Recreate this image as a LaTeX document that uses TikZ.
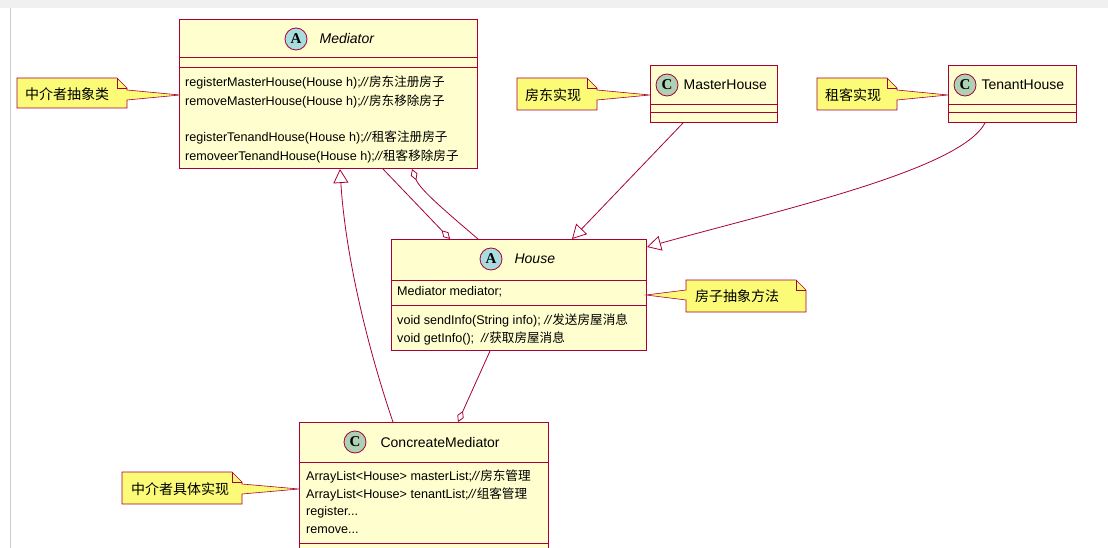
\documentclass[tikz,border=0pt]{standalone}
\usepackage{fontspec}
\setmainfont{Liberation Sans}
\newfontfamily\cjk{Noto Sans CJK SC}
\newfontfamily\badgefont{Liberation Serif}
\usetikzlibrary{arrows.meta,positioning,calc}
\definecolor{umlred}{HTML}{A80036}
\definecolor{umlfill}{HTML}{FEFECE}
\definecolor{notefill}{HTML}{FBFB77}
\definecolor{absbadge}{HTML}{A9DCDF}
\definecolor{clsbadge}{HTML}{ADD1B2}

\newcommand{\umlnote}[6]{% x1 y1 x2 y2 tip-x tip-y (pointer on right side)
  \draw[note] (#1,#2) -- ({#3-10},#2) -- (#3,{#2+10}) -- (#3,{#2+12}) -- (#5,#6)
    -- (#3,{#2+22}) -- (#3,#4) -- (#1,#4) -- cycle;
  \draw[umlred, line width=0.6pt] ({#3-10},#2) -- ({#3-10},{#2+10}) -- (#3,{#2+10});
}

\begin{document}
\begin{tikzpicture}[x=1pt, y=-1pt,
    font=\fontsize{12.6}{14}\selectfont,
    cls/.style={rectangle, draw=umlred, fill=umlfill, line width=1pt, anchor=north west, inner sep=0pt},
    sep/.style={umlred, line width=1pt},
    member/.style={anchor=west, inner sep=0pt},
    title/.style={inner sep=0pt, font=\fontsize{14}{16}\selectfont},
    badge/.style={circle, draw=umlred, line width=0.8pt, minimum size=22pt, inner sep=0pt, font=\badgefont\bfseries\fontsize{15}{16}\selectfont},
    note/.style={draw=umlred, fill=notefill, line width=0.6pt},
    notetext/.style={inner sep=0pt, anchor=west, font=\cjk\fontsize{14}{16}\selectfont},
    link/.style={umlred, line width=0.8pt},
    inh/.style={link, -{Triangle[open, length=14pt, width=15pt]}},
    agg/.style={link, -{Diamond[open, length=12pt, width=7pt]}}
]
    \useasboundingbox (0,0) rectangle (1108,548);
    \fill[white] (0,0) rectangle (1108,548);
    \fill[gray!12] (0,0) rectangle (1108,8);
    \draw[gray!40] (10,8) -- (10,548);

    % Mediator
    \node[cls, minimum width=298pt, minimum height=149pt] (med) at (179,19) {};
    \draw[sep] (179,58) -- (477,58);
    \draw[sep] (179,68) -- (477,68);
    \node[badge, fill=absbadge] (medA) at (296,39) {A};
    \node[title, anchor=west, right=12pt of medA] (medT) {\itshape Mediator};
    \node[member] (m1) at (185,82) {registerMasterHouse(House h);\textit{//}{\cjk 房东注册房子}};
    \node[member] (m2) at (185,101) {removeMasterHouse(House h);\textit{//}{\cjk 房东移除房子}};
    \node[member] (m3) at (185,137) {registerTenandHouse(House h);\textit{//}{\cjk 租客注册房子}};
    \node[member] (m4) at (185,156) {removeerTenandHouse(House h);\textit{//}{\cjk 租客移除房子}};

    % MasterHouse
    \node[cls, minimum width=127pt, minimum height=57pt] (mh) at (650,65) {};
    \draw[sep] (650,105) -- (777,105);
    \draw[sep] (650,113) -- (777,113);
    \node[badge, fill=clsbadge] (mhC) at (667,85) {C};
    \node[title, anchor=west, right=5pt of mhC] (mhT) {MasterHouse};

    % TenantHouse
    \node[cls, minimum width=128pt, minimum height=57pt] (th) at (948,65) {};
    \draw[sep] (948,105) -- (1076,105);
    \draw[sep] (948,113) -- (1076,113);
    \node[badge, fill=clsbadge] (thC) at (965,85) {C};
    \node[title, anchor=west, right=5pt of thC] (thT) {TenantHouse};

    % House
    \node[cls, minimum width=255pt, minimum height=111pt] (house) at (391,239) {};
    \draw[sep] (391,280) -- (646,280);
    \draw[sep] (391,305) -- (646,305);
    \node[badge, fill=absbadge] (hA) at (491,259) {A};
    \node[title, anchor=west, right=12pt of hA] (hT) {\itshape House};
    \node[member] (h1) at (397,292) {Mediator mediator;};
    \node[member] (h2) at (397,320) {void sendInfo(String info); \textit{//}{\cjk 发送房屋消息}};
    \node[member] (h3) at (397,338) {void getInfo();\ \ \textit{//}{\cjk 获取房屋消息}};

    % ConcreateMediator
    \node[cls, minimum width=249pt, minimum height=140pt] (cm) at (299,422) {};
    \draw[sep] (299,462) -- (548,462);
    \draw[sep] (299,543) -- (548,543);
    \node[badge, fill=clsbadge] (cmC) at (355,442) {C};
    \node[title, anchor=west, right=14pt of cmC] (cmT) {ConcreateMediator};
    \node[member] (c1) at (306,476) {ArrayList<House> masterList;\textit{//}{\cjk 房东管理}};
    \node[member] (c2) at (306,494) {ArrayList<House> tenantList;\textit{//}{\cjk 组客管理}};
    \node[member] (c3) at (306,512) {register...};
    \node[member] (c4) at (306,530) {remove...};

    % notes
    \umlnote{17}{78}{127}{108}{180}{95}
    \node[notetext] (n1) at (25,94) {中介者抽象类};
    \umlnote{517}{78}{597}{110}{650}{95}
    \node[notetext] (n2) at (525,95) {房东实现};
    \umlnote{817}{78}{897}{110}{948}{95}
    \node[notetext] (n3) at (825,95) {租客实现};
    \umlnote{122}{472}{242}{504}{299}{489}
    \node[notetext] (n5) at (131,489) {中介者具体实现};
    \draw[note] (686,280) -- (796,280) -- (806,290) -- (806,312) -- (686,312) -- (686,300)
      -- (646,295) -- (686,290) -- cycle;
    \draw[umlred, line width=0.6pt] (796,280) -- (796,290) -- (806,290);
    \node[notetext] (n4) at (695,296) {房子抽象方法};

    % connectors
    \draw[inh] ([xshift=33pt]mh.south west) -- ([xshift=181pt]house.north west);
    \draw[inh] ([xshift=37pt]th.south west) .. controls (960,170) and (780,210) .. ([yshift=-8pt]house.north east);
    \draw[inh] ([xshift=94pt]cm.north west) .. controls (365,340) and (345,250) .. ([xshift=161pt]med.south west);
    \draw[agg] ([xshift=204pt]med.south west) -- ([xshift=59pt]house.north west);
    \draw[agg] ([xshift=87pt]house.north west) .. controls (450,215) and (420,190) .. ([xshift=233pt]med.south west);
    \draw[agg] ([xshift=99pt]house.south west) -- ([xshift=159pt]cm.north west);
\end{tikzpicture}
\end{document}
